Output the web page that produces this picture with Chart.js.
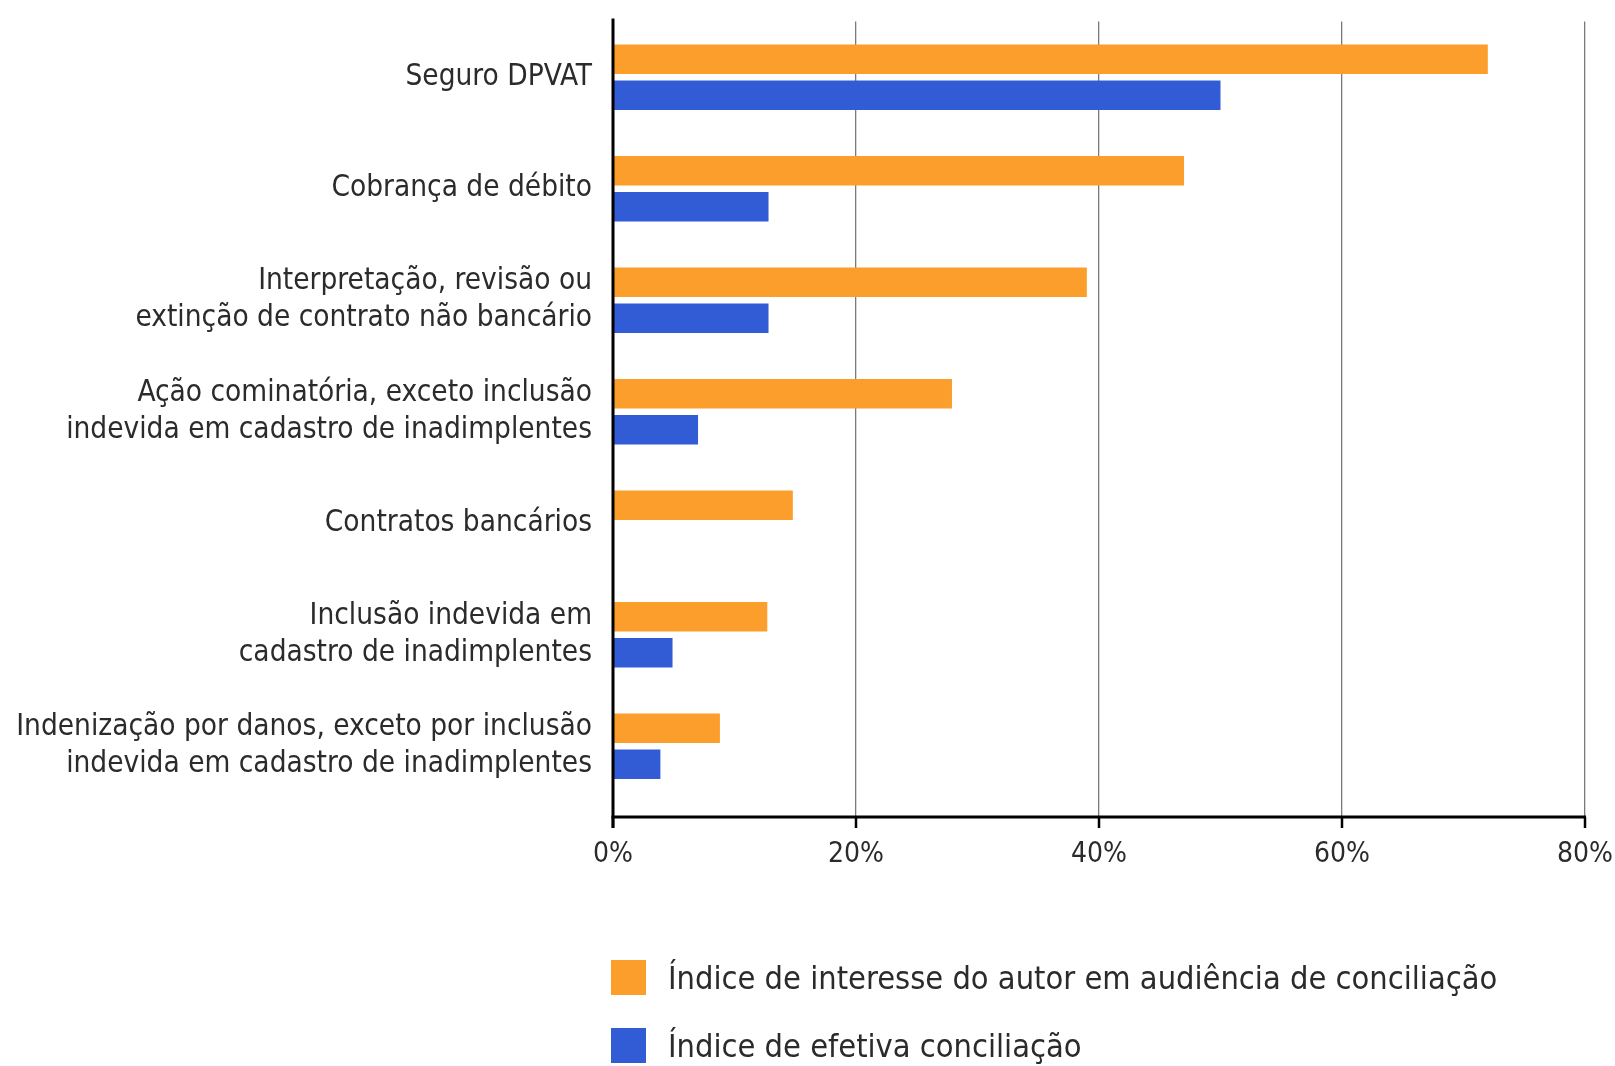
<!DOCTYPE html>
<html lang="pt-BR">
<head>
<meta charset="utf-8">
<title>Conciliação por assunto</title>
<script src="https://cdn.jsdelivr.net/npm/chart.js@4/dist/chart.umd.min.js"></script>
<style>
  html, body { margin: 0; padding: 0; background: #fff; }
  #wrap { position: relative; width: 1615px; height: 1066px; }
  #legenda {
    position: absolute; left: 611px; top: 960px;
    font-family: "DejaVu Sans Condensed", "DejaVu Sans", sans-serif;
    font-size: 32.3px; color: #2b2b2b;
  }
  .item { display: flex; align-items: center; height: 35px; margin-bottom: 33px; white-space: nowrap; }
  .caixa { width: 35px; height: 35px; margin-right: 22px; flex: none; }
</style>
</head>
<body>
<div id="wrap">
  <canvas id="grafico" width="1615" height="1066"></canvas>
  <div id="legenda"></div>
</div>
<script>
// dados
const categorias = [
  "Seguro DPVAT",
  "Cobrança de débito",
  ["Interpretação, revisão ou", "extinção de contrato não bancário"],
  ["Ação cominatória, exceto inclusão", "indevida em cadastro de inadimplentes"],
  "Contratos bancários",
  ["Inclusão indevida em", "cadastro de inadimplentes"],
  ["Indenização por danos, exceto por inclusão", "indevida em cadastro de inadimplentes"]
];
const interesseAutor = [72, 47, 39, 27.9, 14.8, 12.7, 8.8];
const efetivaConciliacao = [50, 12.8, 12.8, 7, null, 4.9, 3.9];
const nomesSeries = [
  "Índice de interesse do autor em audiência de conciliação",
  "Índice de efetiva conciliação"
];
const eixoX = { min: 0, max: 80, passo: 20 };

const corTexto = "#2b2b2b";
const fonte = "'DejaVu Sans Condensed', 'DejaVu Sans', sans-serif";

// linha do eixo, marcas e eixo vertical (passam um pouco da área do gráfico)
const eixos = {
  id: "eixos",
  afterDatasetsDraw(chart) {
    const { ctx, chartArea, scales: { x } } = chart;
    const base = chartArea.bottom + 15;
    const x0 = x.getPixelForValue(eixoX.min);
    ctx.save();
    ctx.strokeStyle = "#000";
    ctx.lineWidth = 2.5;
    x.ticks.forEach(t => {
      const px = x.getPixelForValue(t.value);
      ctx.beginPath();
      ctx.moveTo(px, base);
      ctx.lineTo(px, base + 11);
      ctx.stroke();
    });
    ctx.lineWidth = 3;
    ctx.beginPath();
    ctx.moveTo(x0 - 1.5, base);
    ctx.lineTo(x.getPixelForValue(eixoX.max) + 1, base);
    ctx.stroke();
    ctx.beginPath();
    ctx.moveTo(x0, chartArea.top - 3);
    ctx.lineTo(x0, base + 11);
    ctx.stroke();
    ctx.restore();
  }
};

const ctx = document.getElementById("grafico").getContext("2d");
const grafico = new Chart(ctx, {
  type: "bar",
  data: {
    labels: categorias,
    datasets: [
      {
        label: nomesSeries[0],
        data: interesseAutor,
        backgroundColor: "#FC9E2B",
        barPercentage: 0.82,
        categoryPercentage: 0.646
      },
      {
        label: nomesSeries[1],
        data: efetivaConciliacao,
        backgroundColor: "#325CD5",
        barPercentage: 0.82,
        categoryPercentage: 0.646
      }
    ]
  },
  options: {
    indexAxis: "y",
    responsive: false,
    animation: false,
    layout: { padding: { top: 21.5, right: 30, left: 0, bottom: 204 } },
    plugins: {
      legend: { display: false },
      tooltip: { enabled: false }
    },
    scales: {
      x: {
        min: eixoX.min,
        max: eixoX.max,
        afterFit: s => {
          s.height = 60;
          s.paddingLeft = 0;
          s.paddingRight = 0;
        },
        ticks: {
          stepSize: eixoX.passo,
          callback: v => v + "%",
          color: corTexto,
          padding: 21,
          maxRotation: 0,
          font: { family: fonte, size: 28 }
        },
        grid: { color: "#7a7a7a", lineWidth: 1.3, tickLength: 15, tickColor: "#7a7a7a" },
        border: { display: false }
      },
      y: {
        afterFit: s => {
          s.width = 613;
          s.paddingTop = 0;
          s.paddingBottom = 0;
        },
        ticks: {
          color: corTexto,
          padding: 21,
          font: { family: fonte, size: 29.5, lineHeight: 37 / 29.5 }
        },
        grid: { display: false, drawTicks: false },
        border: { display: false }
      }
    }
  },
  plugins: [eixos]
});

// legenda em coluna, montada a partir dos datasets
const legenda = document.getElementById("legenda");
grafico.data.datasets.forEach(ds => {
  const item = document.createElement("div");
  item.className = "item";
  const caixa = document.createElement("span");
  caixa.className = "caixa";
  caixa.style.background = ds.backgroundColor;
  const texto = document.createElement("span");
  texto.textContent = ds.label;
  item.appendChild(caixa);
  item.appendChild(texto);
  legenda.appendChild(item);
});
</script>
</body>
</html>
